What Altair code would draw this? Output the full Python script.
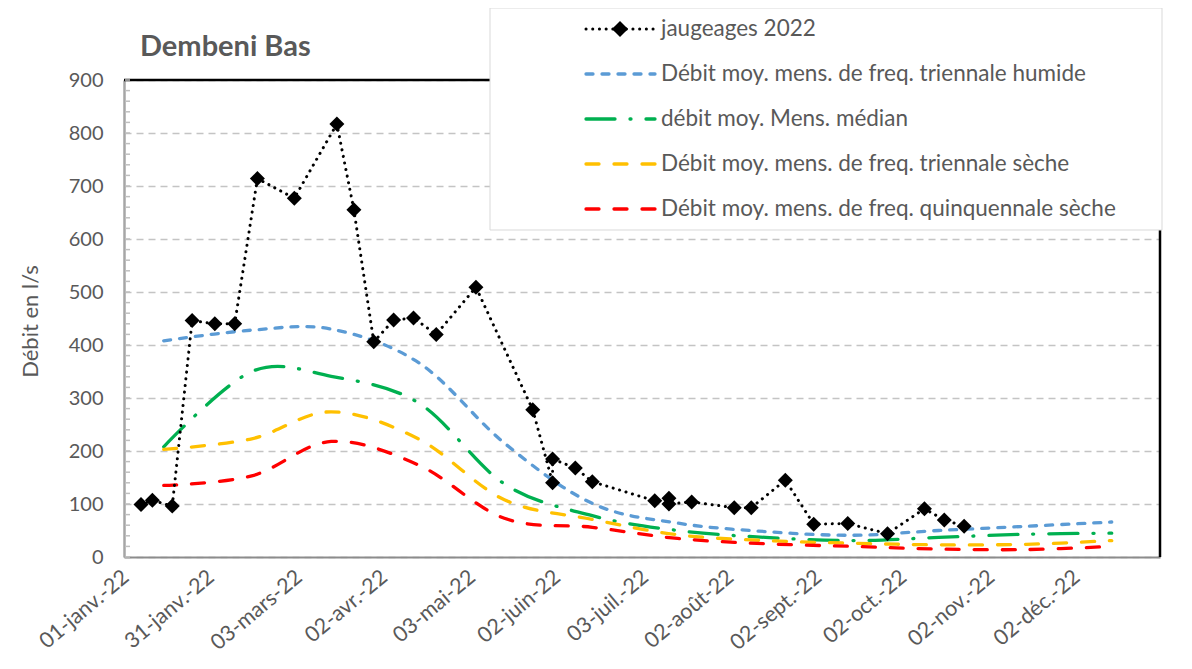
import json
import altair as alt
import pandas as pd

# ---------------- data ----------------
jaug_dates = ["2022-01-07", "2022-01-11", "2022-01-18", "2022-01-25", "2022-02-02", "2022-02-09",
              "2022-02-17", "2022-03-02", "2022-03-17", "2022-03-23", "2022-03-30", "2022-04-06",
              "2022-04-13", "2022-04-21", "2022-05-05", "2022-05-25", "2022-06-01", "2022-06-01",
              "2022-06-09", "2022-06-15", "2022-07-07", "2022-07-12", "2022-07-12", "2022-07-20",
              "2022-08-04", "2022-08-10", "2022-08-22", "2022-09-01", "2022-09-13", "2022-09-27",
              "2022-10-10", "2022-10-17", "2022-10-24"]
jaug_values = [99, 107, 96, 446, 440, 440, 714, 677, 817, 655, 406, 447,
               451, 420, 509, 278, 140, 185, 168, 142, 106, 111, 100, 104,
               93, 93, 145, 62, 63, 44, 91, 70, 58]

month_dates = ["2022-01-15", "2022-02-15", "2022-03-15", "2022-04-15", "2022-05-15", "2022-06-15",
               "2022-07-15", "2022-08-15", "2022-09-15", "2022-10-15", "2022-11-15", "2022-12-15"]
humide = [408, 428, 430, 366, 215, 101, 64, 48, 41, 50, 58, 66]
median = [208, 350, 341, 290, 138, 78, 50, 37, 31, 37, 43, 45]
seche3 = [203, 223, 274, 222, 108, 71, 42, 31, 26, 23, 24, 31]
seche5 = [135, 153, 218, 173, 73, 56, 35, 25, 20, 15, 14, 20]

series_names = ["jaugeages 2022",
                "Débit moy. mens. de freq. triennale humide",
                "débit moy. Mens. médian",
                "Débit moy. mens. de freq. triennale sèche",
                "Débit moy. mens. de freq. quinquennale sèche"]
series_colors = ["#000000", "#5B9BD5", "#00B050", "#FFC000", "#FF0000"]
series_dashes = [[0.1, 6.6], [7, 9], [29, 15, 1, 15], [13, 15], [13, 15]]

tick_dates = ["2022-01-01", "2022-01-31", "2022-03-03", "2022-04-02", "2022-05-03", "2022-06-02",
              "2022-07-03", "2022-08-02", "2022-09-02", "2022-10-02", "2022-11-02", "2022-12-02"]
tick_labels = ["01-janv.-22", "31-janv.-22", "03-mars-22", "02-avr.-22", "03-mai-22", "02-juin-22",
               "03-juil.-22", "02-août-22", "02-sept.-22", "02-oct.-22", "02-nov.-22", "02-déc.-22"]
y_ticks = [0, 100, 200, 300, 400, 500, 600, 700, 800, 900]
minor_ticks = list(range(0, 901, 20))

title_text = "Dembeni Bas"
y_title = "Débit en l/s"

# ---------------- style ----------------
FONT = "Lato"
TXT = "#595959"
W, H = 1036, 477

tick_ms = [int(pd.Timestamp(d).value // 10**6) for d in tick_dates]
label_expr = "%s[indexof(%s, time(datum.value))]" % (json.dumps(tick_labels, ensure_ascii=False),
                                                      json.dumps(tick_ms))

x_enc = alt.X(
    "date:T",
    scale=alt.Scale(type="utc",
                    domain=[alt.DateTime(year=2022, month=1, date=1, utc=True),
                            alt.DateTime(year=2023, month=1, date=1, utc=True)]),
    axis=alt.Axis(values=tick_ms, labelExpr=label_expr, labelAngle=320, labelFontSize=21.5,
                  labelColor=TXT, labelFont=FONT, labelPadding=9, labelOffset=-5, ticks=False, tickSize=0,
                  domainColor="#8C8C8C", domainWidth=2, grid=False, title=None,
                  labelOverlap=False, labelFlush=False),
)
y_enc = alt.Y(
    "value:Q",
    scale=alt.Scale(domain=[0, 900], nice=False, zero=True),
    axis=alt.Axis(values=y_ticks, grid=True, gridDash=[7, 5], gridColor="#C4C4C4", gridWidth=1.6,
                  domainColor="#A6A6A6", domainWidth=2.5, ticks=False, tickSize=0, labelPadding=21,
                  labelFontSize=20, labelColor=TXT, labelFont=FONT,
                  title=y_title, titleX=-94, titleY=241, titleFontSize=22, titleFont=FONT,
                  titleFontWeight="normal", titleColor=TXT, titleAlign="center",
                  titleBaseline="middle", titleAngle=270),
)

one = alt.Data(values=[{"k": 1}])

# frame: top and right black borders
top_border = alt.Chart(one).mark_rule(color="#000000", strokeWidth=2.5).encode(
    x=alt.value(0), x2=alt.value(W), y=alt.value(0))
right_border = alt.Chart(one).mark_rule(color="#000000", strokeWidth=2.5).encode(
    x=alt.value(W), y=alt.value(0), y2=alt.value(H))

# minor ticks on y axis (inside)
minor_df = pd.DataFrame({"value": minor_ticks})
minor = alt.Chart(minor_df).mark_rule(color="#BFBFBF", strokeWidth=1.5).encode(
    y=y_enc, x=alt.value(1), x2=alt.value(6))

# monthly curves
curve_rows = []
for name, vals in zip(series_names[1:], [humide, median, seche3, seche5]):
    for d, v in zip(month_dates, vals):
        curve_rows.append({"series": name, "date": d, "value": v})
curve_df = pd.DataFrame(curve_rows)
curves = alt.Chart(curve_df).mark_line(interpolate="cardinal", strokeWidth=3.3, strokeCap="round").encode(
    x=x_enc, y=y_enc,
    color=alt.Color("series:N", scale=alt.Scale(domain=series_names[1:], range=series_colors[1:]), legend=None),
    strokeDash=alt.StrokeDash("series:N", scale=alt.Scale(domain=series_names[1:], range=series_dashes[1:]), legend=None),
    detail="series:N",
)

# jaugeages
jdf = pd.DataFrame({"date": jaug_dates, "value": jaug_values, "idx": list(range(len(jaug_dates)))})
jline = alt.Chart(jdf).mark_line(color="#000000", strokeWidth=3, strokeDash=series_dashes[0],
                                 strokeCap="round").encode(x=x_enc, y=y_enc, order="idx:Q")
jpts = alt.Chart(jdf).mark_point(shape="diamond", filled=True, color="#000000", size=225, opacity=1).encode(
    x=x_enc, y=y_enc)

# legend (manual, boxed)
leg_box = alt.Chart(one).mark_rect(fill="#FFFFFF", stroke="#D9D9D9", strokeWidth=1).encode(
    x=alt.value(366), x2=alt.value(1038), y=alt.value(-72), y2=alt.value(150))
legend_layers = [leg_box]
for i, (name, col, dash) in enumerate(zip(series_names, series_colors, series_dashes)):
    ly = -51 + 45 * i
    d = alt.Data(values=[{"label": name}])
    sw = 3 if i == 0 else 3.3
    legend_layers.append(alt.Chart(d).mark_rule(color=col, strokeWidth=sw, strokeDash=dash, strokeCap="round").encode(
        x=alt.value(462), x2=alt.value(531), y=alt.value(ly)))
    legend_layers.append(alt.Chart(d).mark_text(align="left", baseline="middle", font=FONT, fontSize=22.5,
                                                color=TXT).encode(
        x=alt.value(537), y=alt.value(ly), text="label:N"))
legend_layers.append(alt.Chart(one).mark_point(shape="diamond", filled=True, color="#000000", size=260, opacity=1).encode(
    x=alt.value(496), y=alt.value(-51)))

title = alt.Chart(alt.Data(values=[{"t": title_text}])).mark_text(
    align="left", baseline="alphabetic", font=FONT, fontSize=29, fontWeight="bold", color=TXT).encode(
    x=alt.value(16), y=alt.value(-24), text="t:N")

chart = alt.layer(top_border, right_border, minor, curves, jline, jpts, *legend_layers, title).properties(
    width=W, height=H,
    padding={"left": 116, "top": 72, "right": 16, "bottom": 100},
    autosize=alt.AutoSizeParams(type="none"),
).configure_view(stroke=None).configure(background="#FFFFFF")

chart.save("out.html", embed_options={"renderer": "svg", "actions": False})
